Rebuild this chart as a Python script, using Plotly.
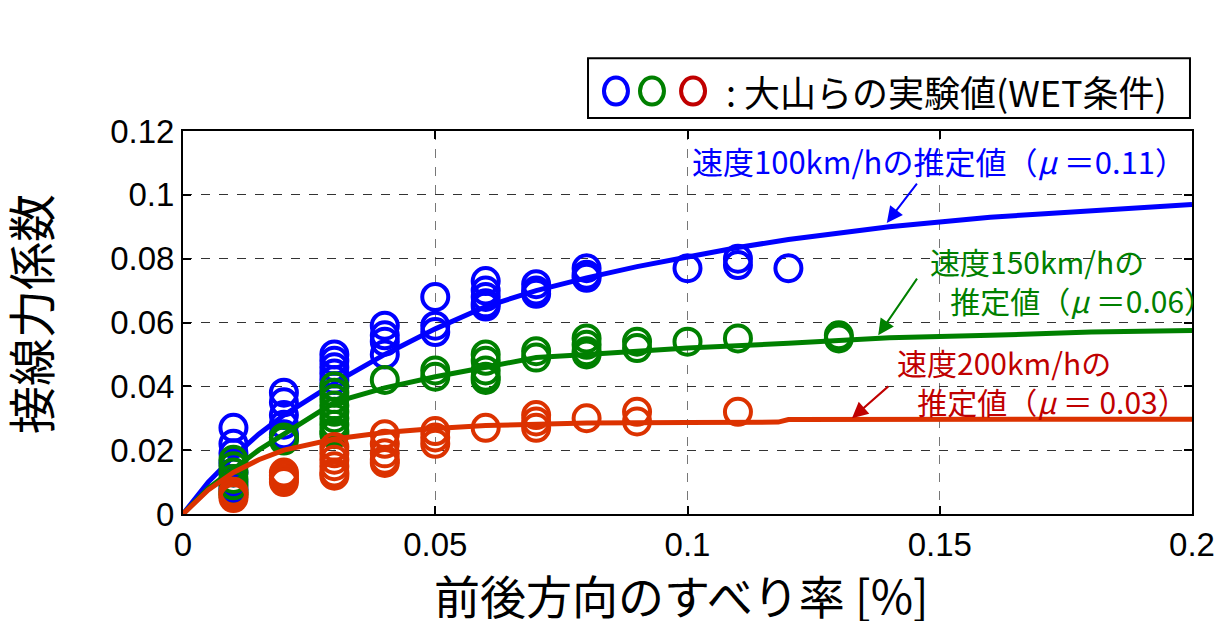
import plotly.graph_objects as go

# ---------------- data ----------------
# experimental points (slip ratio, tangential force coefficient)
blue_pts_x = [0.01]*7 + [0.02]*6 + [0.03]*6 + [0.04]*4 + [0.05]*3 + [0.06]*5 + [0.07]*3 + [0.08]*3 + [0.10] + [0.11]*2 + [0.12]
blue_pts_y = [0.027, 0.022, 0.019, 0.016, 0.013, 0.010, 0.008,
              0.038, 0.035, 0.031, 0.028, 0.025, 0.024,
              0.050, 0.048, 0.046, 0.044, 0.042, 0.040,
              0.059, 0.056, 0.054, 0.050,
              0.068, 0.059, 0.057,
              0.073, 0.070, 0.068, 0.066, 0.065,
              0.072, 0.070, 0.069,
              0.077, 0.075, 0.074,
              0.077,
              0.080, 0.078,
              0.077]

green_pts_x = [0.01]*7 + [0.02]*2 + [0.03]*9 + [0.04] + [0.05]*2 + [0.06]*5 + [0.07]*2 + [0.08]*4 + [0.09]*2 + [0.10] + [0.11] + [0.13]*2
green_pts_y = [0.017, 0.015, 0.013, 0.011, 0.009, 0.007, 0.006,
               0.024, 0.023,
               0.040, 0.038, 0.036, 0.034, 0.032, 0.030, 0.028, 0.026, 0.025,
               0.042,
               0.045, 0.043,
               0.050, 0.048, 0.045, 0.043, 0.042,
               0.051, 0.049,
               0.055, 0.053, 0.051, 0.050,
               0.054, 0.052,
               0.054,
               0.055,
               0.056, 0.055]

red_pts_x = [0.01]*3 + [0.02]*4 + [0.03]*6 + [0.04]*5 + [0.05]*3 + [0.06] + [0.07]*3 + [0.08] + [0.09]*2 + [0.11]
red_pts_y = [0.007, 0.006, 0.005,
             0.013, 0.012, 0.011, 0.010,
             0.021, 0.019, 0.017, 0.015, 0.013, 0.012,
             0.025, 0.022, 0.019, 0.017, 0.016,
             0.026, 0.024, 0.022,
             0.027,
             0.031, 0.029, 0.027,
             0.030,
             0.032, 0.029,
             0.032]

# estimated curves
blue_curve_x = [0, 0.005, 0.01, 0.015, 0.02, 0.025, 0.03, 0.04, 0.05, 0.06, 0.07, 0.08, 0.09, 0.10,
                0.11, 0.12, 0.13, 0.14, 0.15, 0.16, 0.17, 0.18, 0.19, 0.20]
blue_curve_y = [0, 0.010, 0.018, 0.025, 0.031, 0.036, 0.041, 0.050, 0.058, 0.065, 0.070, 0.074, 0.0775, 0.0805,
                0.0835, 0.086, 0.088, 0.090, 0.0915, 0.093, 0.094, 0.095, 0.096, 0.097]

green_curve_x = [0, 0.005, 0.01, 0.015, 0.02, 0.025, 0.03, 0.04, 0.05, 0.06, 0.07, 0.08, 0.09, 0.10,
                 0.12, 0.14, 0.16, 0.18, 0.20]
green_curve_y = [0, 0.008, 0.014, 0.020, 0.025, 0.030, 0.035, 0.0395, 0.043, 0.046, 0.049, 0.050, 0.051, 0.052,
                 0.0535, 0.0552, 0.056, 0.057, 0.0575]

red_curve_x = [0, 0.005, 0.01, 0.015, 0.02, 0.03, 0.04, 0.05, 0.06, 0.07, 0.08, 0.10, 0.118, 0.12, 0.20]
red_curve_y = [0, 0.0075, 0.013, 0.017, 0.020, 0.0235, 0.0255, 0.0268, 0.0277, 0.0282, 0.0285, 0.0287, 0.0288,
               0.0296, 0.0297]

x_tickvals = [0, 0.05, 0.1, 0.15, 0.2]
x_ticktext = ["0", "0.05", "0.1", "0.15", "0.2"]
y_tickvals = [0, 0.02, 0.04, 0.06, 0.08, 0.1, 0.12]
y_ticktext = ["0", "0.02", "0.04", "0.06", "0.08", "0.1", "0.12"]

legend_text = ": 大山らの実験値(WET条件)"
blue_label = "速度100km/hの推定値（<i>μ</i> ＝0.11）"
green_label = "速度150km/hの<br>\u00a0\u00a0\u00a0推定値（<i>μ</i> ＝0.06）"
red_label = "速度200km/hの<br>\u00a0\u00a0\u00a0推定値（<i>μ</i> ＝ 0.03）"
x_title = "前後方向のすべり率 [%]"
y_title = "接線力係数"

# ---------------- style ----------------
BLUE = "#0000ff"
GREEN = "#008000"
RED = "#dc3200"
DARKRED = "#c00000"
CJK = "Noto Sans CJK JP"
NUM = "Liberation Sans"

fig = go.Figure()

def add_series(px, py, cx, cy, color):
    fig.add_trace(go.Scatter(x=px, y=py, mode="markers",
                             marker=dict(symbol="circle-open", size=26, color=color,
                                         line=dict(width=4, color=color)),
                             showlegend=False, cliponaxis=False))
    fig.add_trace(go.Scatter(x=cx, y=cy, mode="lines",
                             line=dict(color=color, width=5),
                             showlegend=False))

add_series(blue_pts_x, blue_pts_y, blue_curve_x, blue_curve_y, BLUE)
add_series(green_pts_x, green_pts_y, green_curve_x, green_curve_y, GREEN)
add_series(red_pts_x, red_pts_y, red_curve_x, red_curve_y, RED)

axis_common = dict(showline=True, linecolor="black", linewidth=2, mirror="allticks",
                   ticks="inside", ticklen=8, tickwidth=1.5, tickcolor="black",
                   showgrid=True, griddash="dash", gridwidth=1, zeroline=False,
                   automargin=False,
                   tickfont=dict(family=NUM, size=33, color="black"))

fig.update_xaxes(range=[0, 0.2], tickvals=x_tickvals, ticktext=x_ticktext,
                 gridcolor="#777777", **axis_common)
fig.update_yaxes(range=[0, 0.12], tickvals=y_tickvals, ticktext=y_ticktext,
                 gridcolor="#333333", **axis_common)

annotations = []
# axis titles
annotations.append(dict(x=0.4945, y=-0.208, xref="paper", yref="paper", text=x_title, showarrow=False,
                        xanchor="center", yanchor="middle", font=dict(family=CJK, size=46, color="black")))
annotations.append(dict(x=-0.1526, y=0.522, xref="paper", yref="paper", text=y_title, showarrow=False,
                        textangle=-90, xanchor="center", yanchor="middle",
                        font=dict(family=CJK, size=48, color="black")))
# curve labels
annotations.append(dict(x=0.1005, y=0.1109, xref="x", yref="y", text=blue_label, showarrow=False,
                        xanchor="left", yanchor="middle", font=dict(family=CJK, size=31, color=BLUE)))
annotations.append(dict(x=0.1477, y=0.0733, xref="x", yref="y", text=green_label, showarrow=False,
                        xanchor="left", yanchor="middle", align="left",
                        font=dict(family=CJK, size=30, color=GREEN)))
annotations.append(dict(x=0.1411, y=0.0416, xref="x", yref="y", text=red_label, showarrow=False,
                        xanchor="left", yanchor="middle", align="left",
                        font=dict(family=CJK, size=30, color=DARKRED)))
# arrows
for (tx, ty, hx, hy, col) in [(0.1457, 0.1040, 0.1395, 0.0912, BLUE),
                              (0.1457, 0.0742, 0.1378, 0.0560, GREEN),
                              (0.1401, 0.0404, 0.1326, 0.0300, DARKRED)]:
    annotations.append(dict(x=hx, y=hy, ax=tx, ay=ty, xref="x", yref="y", axref="x", ayref="y",
                            text="", showarrow=True, arrowhead=2, arrowsize=1.6, arrowwidth=2,
                            arrowcolor=col))
# legend text
annotations.append(dict(x=0.536, y=1.1044, xref="paper", yref="paper", text=legend_text, showarrow=False,
                        xanchor="left", yanchor="middle", font=dict(family=CJK, size=36, color="black")))

shapes = []
shapes.append(dict(type="rect", xref="paper", yref="paper", x0=0.4014, x1=0.998, y0=1.034, y1=1.19,
                   line=dict(color="black", width=2), fillcolor="white", layer="below"))
for cx, col in [(0.4291, BLUE), (0.4648, GREEN), (0.5055, DARKRED)]:
    shapes.append(dict(type="circle", xref="paper", yref="paper", xsizemode="pixel", ysizemode="pixel",
                       xanchor=cx, yanchor=1.1044, x0=-12, x1=12, y0=-13.5, y1=13.5,
                       line=dict(color=col, width=4)))

fig.update_layout(width=1216, height=621, margin=dict(l=183, r=24, t=131, b=107),
                  plot_bgcolor="white", paper_bgcolor="white",
                  annotations=annotations, shapes=shapes, showlegend=False)

# remove the browser's default 8px body margin so the figure fills the window exactly
fig.write_html("out.html", config={"displayModeBar": False},
               post_script="document.body.style.margin='0';document.body.style.overflow='hidden';")
